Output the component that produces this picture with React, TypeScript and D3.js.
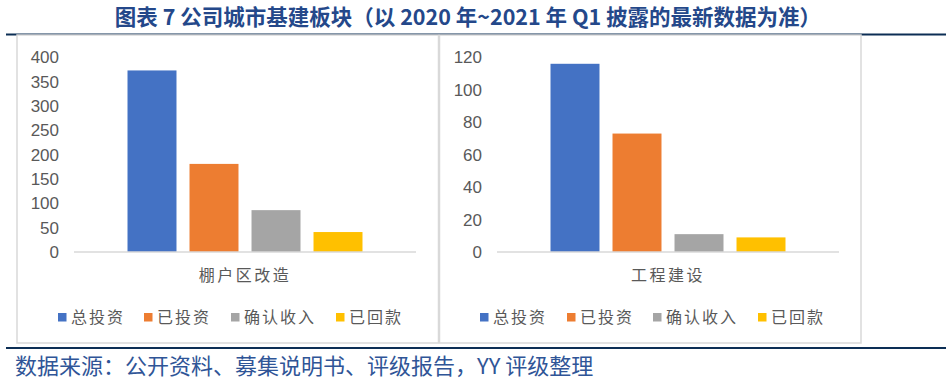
import React from "react";
import * as d3 from "d3";

const title = "图表 7 公司城市基建板块（以 2020 年~2021 年 Q1 披露的最新数据为准）";
const source = "数据来源：公开资料、募集说明书、评级报告，YY 评级整理";
const series = ["总投资", "已投资", "确认收入", "已回款"];
const colors = ["#4472C4", "#ED7D31", "#A5A5A5", "#FFC000"];
const leftCategory = ["棚户区改造"];
const leftValues = [373, 181, 86, 41];
const leftTicks = [0, 50, 100, 150, 200, 250, 300, 350, 400];
const rightCategory = ["工程建设"];
const rightValues = [116, 73, 11, 9];
const rightTicks = [0, 20, 40, 60, 80, 100, 120];

type PanelProps = {
  box: [number, number];
  plotX: [number, number];
  labelX: number;
  category: string[];
  values: number[];
  ticks: number[];
  legendX: number[];
};

const TOP = 57.3;
const ZERO = 252;

function Panel({ box, plotX, labelX, category, values, ticks, legendX }: PanelProps) {
  const y = d3.scaleLinear().domain([0, ticks[ticks.length - 1]]).range([ZERO, TOP]);
  const xc = d3.scaleBand<string>().domain(category).range(plotX).paddingInner(0).paddingOuter(0.1895);
  const xs = d3
    .scaleBand<string>()
    .domain(series)
    .range([xc(category[0]) as number, (xc(category[0]) as number) + xc.bandwidth()])
    .paddingInner(0.21)
    .paddingOuter(0.105);
  const cx = (xc(category[0]) as number) + xc.bandwidth() / 2;
  return (
    <g>
      <rect x={box[0]} y={35} width={box[1] - box[0]} height={308} fill="#fff" stroke="#D9D9D9" strokeWidth={1.5} />
      {ticks.map((t) => (
        <text key={t} x={labelX} y={y(t)} dy="0.35em" textAnchor="end" fontSize={17} fill="#595959"
          fontFamily="'Liberation Sans', Arial, sans-serif">
          {t}
        </text>
      ))}
      {series.map((s, i) => (
        <rect key={s} x={xs(s)} y={y(values[i])} width={xs.bandwidth()} height={ZERO - y(values[i])} fill={colors[i]} />
      ))}
      <line x1={plotX[0]} x2={plotX[1]} y1={ZERO} y2={ZERO} stroke="#D9D9D9" strokeWidth={1.5} />
      <text x={cx} y={275} dy="0.35em" textAnchor="middle" fontSize={16} letterSpacing={2.5} fill="#595959"
        fontFamily="'Noto Sans CJK SC', sans-serif">
        {category[0]}
      </text>
      {series.map((s, i) => (
        <g key={s}>
          <rect x={legendX[i]} y={313} width={8.5} height={8.5} fill={colors[i]} />
          <text x={legendX[i] + 13} y={317.5} dy="0.35em" fontSize={16} letterSpacing={2} fill="#595959"
            fontFamily="'Noto Sans CJK SC', sans-serif">
            {s}
          </text>
        </g>
      ))}
    </g>
  );
}

export default function App() {
  return (
    <svg width={946} height={381} style={{ position: "absolute", left: 0, top: 0, background: "#fff" }}>
      <rect x={0} y={0} width={946} height={381} fill="#fff" />
      <text x={468} y={17.5} dy="0.35em" textAnchor="middle" fontSize={21.5} fontWeight="bold" fill="#24488A"
        fontFamily="'Noto Sans CJK SC', sans-serif">
        {title}
      </text>
      <line x1={6} x2={946} y1={34.5} y2={34.5} stroke="#0C2E55" strokeWidth={2} />
      <Panel box={[17, 438.5]} plotX={[74, 416]} labelX={59} category={leftCategory} values={leftValues}
        ticks={leftTicks} legendX={[58, 144, 231, 336]} />
      <Panel box={[439.5, 861]} plotX={[497, 839]} labelX={482} category={rightCategory} values={rightValues}
        ticks={rightTicks} legendX={[480, 567, 653, 758]} />
      <line x1={6} x2={946} y1={348} y2={348} stroke="#0C2E55" strokeWidth={2} />
      <text x={15} y={366} dy="0.35em" fontSize={22} fill="#2F5597" fontFamily="'Noto Sans CJK SC', sans-serif">
        {source}
      </text>
    </svg>
  );
}
